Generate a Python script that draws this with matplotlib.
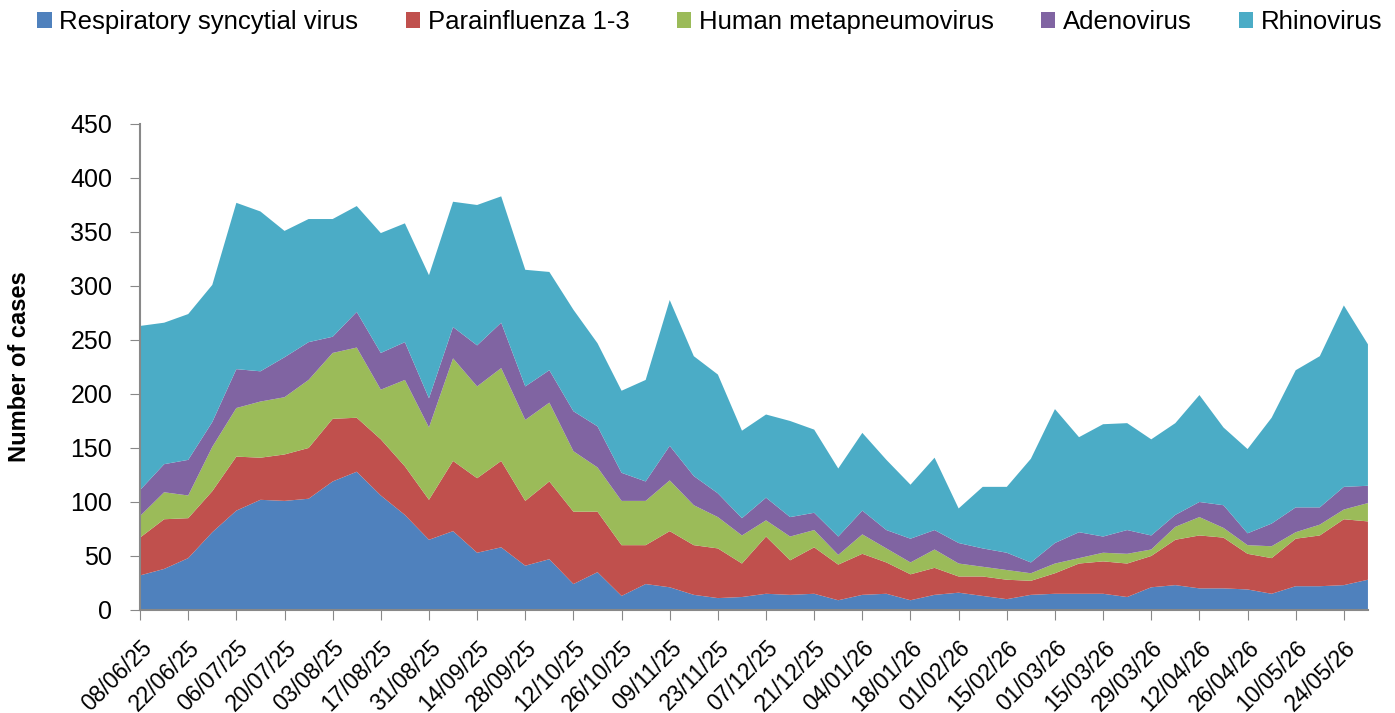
import matplotlib.pyplot as plt
import matplotlib.transforms as mtrans
import pandas as pd

plt.rcParams['font.family'] = ['Liberation Sans', 'DejaVu Sans']

# weekly categories, 08/06/25 .. 31/05/26
weeks = pd.date_range('2025-06-08', periods=52, freq='7D')
week_labels = [d.strftime('%d/%m/%y') for d in weeks]

rsv = [32, 38, 48, 72, 92, 102, 101, 103, 119, 128, 106, 88, 65, 73, 53, 58,
       41, 47, 24, 35, 13, 24, 21, 14, 11, 12, 15, 14, 15, 9, 14, 15, 9, 14,
       16, 13, 10, 14, 15, 15, 15, 12, 21, 23, 20, 20, 19, 15, 22, 22, 23, 28]
parainfluenza = [35, 46, 37, 38, 50, 39, 43, 47, 58, 50, 52, 45, 37, 65, 69, 80,
                 60, 72, 67, 56, 47, 36, 52, 46, 46, 31, 53, 32, 43, 33, 38, 29,
                 24, 25, 15, 18, 18, 13, 19, 28, 30, 31, 29, 42, 49, 47, 33, 33,
                 44, 47, 61, 54]
hmpv = [20, 25, 21, 41, 45, 52, 53, 63, 61, 65, 46, 80, 67, 95, 85, 86,
        75, 73, 56, 41, 41, 41, 47, 37, 29, 26, 15, 22, 16, 9, 18, 13,
        11, 17, 12, 9, 9, 7, 9, 5, 8, 9, 6, 12, 17, 9, 8, 11,
        6, 10, 9, 17]
adeno = [24, 26, 33, 23, 36, 28, 37, 35, 15, 33, 34, 35, 27, 29, 38, 42,
         31, 30, 37, 38, 26, 18, 32, 27, 22, 16, 21, 18, 16, 17, 22, 17,
         22, 18, 19, 17, 16, 10, 19, 24, 15, 22, 13, 11, 14, 21, 11, 21,
         23, 16, 21, 16]
rhino = [152, 131, 135, 127, 154, 148, 117, 114, 109, 98, 111, 110, 114, 116, 130, 117,
         108, 91, 94, 77, 76, 94, 135, 111, 110, 81, 77, 89, 77, 63, 72, 65,
         50, 67, 32, 57, 61, 96, 124, 88, 104, 99, 89, 85, 99, 72, 78, 98,
         127, 140, 168, 131]

names = ['Respiratory syncytial virus', 'Parainfluenza 1-3', 'Human metapneumovirus',
         'Adenovirus', 'Rhinovirus']
colors = ['#4F81BD', '#C0504D', '#9BBB59', '#8064A2', '#4BACC6']

fig = plt.figure(figsize=(13.95, 7.13), dpi=100)
ax = fig.add_axes([0.1004, 0.1445, 0.8802, 0.6816])

x = list(range(len(weeks)))
ax.stackplot(x, rsv, parainfluenza, hmpv, adeno, rhino,
             colors=colors, labels=names, linewidth=0)

ax.set_xlim(0, len(weeks) - 1)
ax.set_ylim(0, 450)
ax.set_yticks(range(0, 451, 50))
ax.set_xticks(x[::2])
ax.set_xticklabels(week_labels[::2], rotation=45, ha='right', va='top',
                   rotation_mode='anchor', fontsize=16.5)
shift = mtrans.ScaledTranslation(7 / 100, 0, fig.dpi_scale_trans)
for lab in ax.get_xticklabels():
    lab.set_transform(lab.get_transform() + shift)
ax.tick_params(axis='y', labelsize=18, length=7, color='#888888', pad=13)
ax.tick_params(axis='x', length=7, color='#888888', pad=12)
ax.set_ylabel('Number of cases', fontsize=17, fontweight='bold', labelpad=28)

for s in ['top', 'right']:
    ax.spines[s].set_visible(False)
for s in ['left', 'bottom']:
    ax.spines[s].set_color('#888888')
    ax.spines[s].set_linewidth(1.5)

fig.legend(loc='upper center', bbox_to_anchor=(0.509, 1.018), ncol=5,
           frameon=False, fontsize=18.5, handlelength=0.55, handleheight=0.55,
           handletextpad=0.3, columnspacing=1.85)

fig.savefig('out.png', dpi=100)
